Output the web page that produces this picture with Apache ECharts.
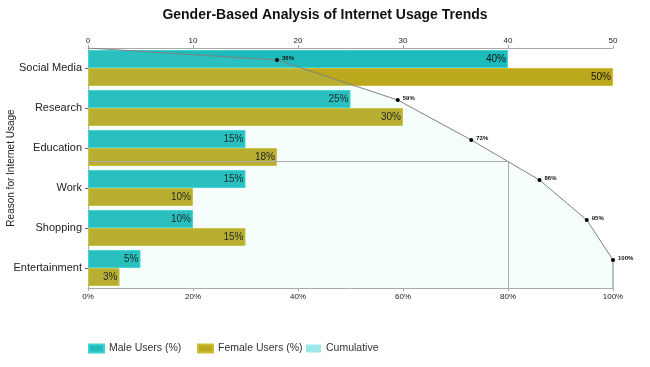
<!DOCTYPE html>
<html>
<head>
<meta charset="utf-8">
<script src="https://cdn.jsdelivr.net/npm/echarts@6/dist/echarts.min.js"></script>
<style>html,body{margin:0;padding:0;background:#fff}#c{width:650px;height:367px}</style>
</head>
<body>
<div id="c"></div>
<script>
var categories = ['Social Media', 'Research', 'Education', 'Work', 'Shopping', 'Entertainment'];
var maleUsers = [40, 25, 15, 15, 10, 5];
var femaleUsers = [50, 30, 18, 10, 15, 3];
var cumulative = [36, 59, 73, 86, 95, 100];
var topTicks = [0, 10, 20, 30, 40, 50];
var bottomTicks = [0, 20, 40, 60, 80, 100];
var legendNames = ['Male Users (%)', 'Female Users (%)', 'Cumulative'];
var paretoThreshold = 80;

var FONT = '"Liberation Sans", Arial, sans-serif';
var n = categories.length;
var rowOffset = 0.3; // line points sit at the centre of the male bar within each band

var linePts = [{value: [0, 0], symbol: 'none', label: {show: false}}];
cumulative.forEach(function (v, i) { linePts.push({value: [v, i + rowOffset]}); });
linePts.push({value: [cumulative[n - 1], n], symbol: 'none', label: {show: false}});

var yc = null;
for (var i = 1; i < n; i++) {
  if (cumulative[i - 1] < paretoThreshold && cumulative[i] >= paretoThreshold) {
    yc = (i - 1) + rowOffset + (paretoThreshold - cumulative[i - 1]) / (cumulative[i] - cumulative[i - 1]);
  }
}

var legendLefts = [88, 197, 306];
var legendColors = [null, null, '#9ee8ea'];
var legends = legendNames.map(function (nm, k) {
  var d = {name: nm, icon: 'rect'};
  if (legendColors[k]) d.itemStyle = {color: legendColors[k], opacity: 1};
  return {
    left: legendLefts[k], top: 343, itemWidth: 15, itemHeight: 8, padding: 0,
    textStyle: {fontSize: 10.5, color: '#333', fontFamily: FONT},
    data: [d]
  };
});

var chart = echarts.init(document.getElementById('c'), null, {renderer: 'canvas'});
chart.setOption({
  animation: false,
  textStyle: {fontFamily: FONT},
  title: {
    text: 'Gender-Based Analysis of Internet Usage Trends',
    left: 'center', top: 3,
    textStyle: {fontSize: 14, fontWeight: 'bold', color: '#111', fontFamily: FONT}
  },
  legend: legends,
  grid: {left: 88, right: 37, top: 48, bottom: 79, containLabel: false, outerBoundsMode: 'none'},
  xAxis: [
    {
      type: 'value', position: 'top', min: topTicks[0], max: topTicks[topTicks.length - 1], interval: 10,
      axisLine: {show: true, lineStyle: {color: '#aaa'}},
      axisTick: {show: true, length: 3, lineStyle: {color: '#aaa'}},
      axisLabel: {fontSize: 8, color: '#222', margin: 3},
      splitLine: {show: false}
    },
    {
      type: 'value', position: 'bottom', min: bottomTicks[0], max: bottomTicks[bottomTicks.length - 1], interval: 20,
      axisLine: {show: true, onZero: false, lineStyle: {color: '#aaa'}},
      axisTick: {show: true, length: 3, lineStyle: {color: '#aaa'}},
      axisLabel: {fontSize: 8, color: '#222', margin: 5, formatter: '{value}%'},
      splitLine: {show: false}
    }
  ],
  yAxis: [
    {
      type: 'category', data: categories, inverse: true,
      name: 'Reason for Internet Usage', nameLocation: 'middle', nameGap: 72, nameRotate: 90,
      nameMoveOverlap: false,
      nameTextStyle: {fontSize: 10, color: '#222'},
      axisLine: {show: true, lineStyle: {color: '#aaa'}},
      axisTick: {show: true, length: 3, alignWithLabel: true, lineStyle: {color: '#666'}},
      axisLabel: {fontSize: 11, color: '#222', margin: 6}
    },
    {
      type: 'value', min: 0, max: n, inverse: true, show: false
    }
  ],
  series: [
    {
      name: legendNames[0], type: 'bar', xAxisIndex: 0, yAxisIndex: 0,
      data: maleUsers, barGap: '0%', barCategoryGap: '10%',
      itemStyle: {color: '#1dbbbb', borderColor: '#3fd0d0', borderWidth: 1},
      label: {show: true, position: 'insideRight', distance: 2, color: '#111', fontSize: 10, formatter: '{c}%'},
      z: 2
    },
    {
      name: legendNames[1], type: 'bar', xAxisIndex: 0, yAxisIndex: 0,
      data: femaleUsers, barGap: '0%', barCategoryGap: '10%',
      itemStyle: {color: '#bba81d', borderColor: '#d0bd35', borderWidth: 1},
      label: {show: true, position: 'insideRight', distance: 2, color: '#111', fontSize: 10, formatter: '{c}%'},
      z: 2
    },
    {
      name: legendNames[2], type: 'line', xAxisIndex: 1, yAxisIndex: 1,
      data: linePts,
      symbol: 'circle', symbolSize: 4,
      itemStyle: {color: '#000'},
      lineStyle: {color: '#808080', width: 1},
      areaStyle: {color: '#9ee8ea', opacity: 0.1, origin: 'end'},
      label: {
        show: true, position: 'right', distance: 3, offset: [0, -2],
        fontSize: 6, fontWeight: 'bold', color: '#111',
        formatter: function (p) { return p.value[0] + '%'; }
      },
      markLine: yc === null ? undefined : {
        silent: true, symbol: ['none', 'none'], label: {show: false},
        lineStyle: {color: '#aaa', width: 1, type: 'solid'},
        data: [
          [{coord: [0, yc]}, {coord: [paretoThreshold, yc]}],
          [{coord: [paretoThreshold, yc]}, {coord: [paretoThreshold, n]}]
        ]
      },
      z: 3
    }
  ]
});
</script>
</body>
</html>
